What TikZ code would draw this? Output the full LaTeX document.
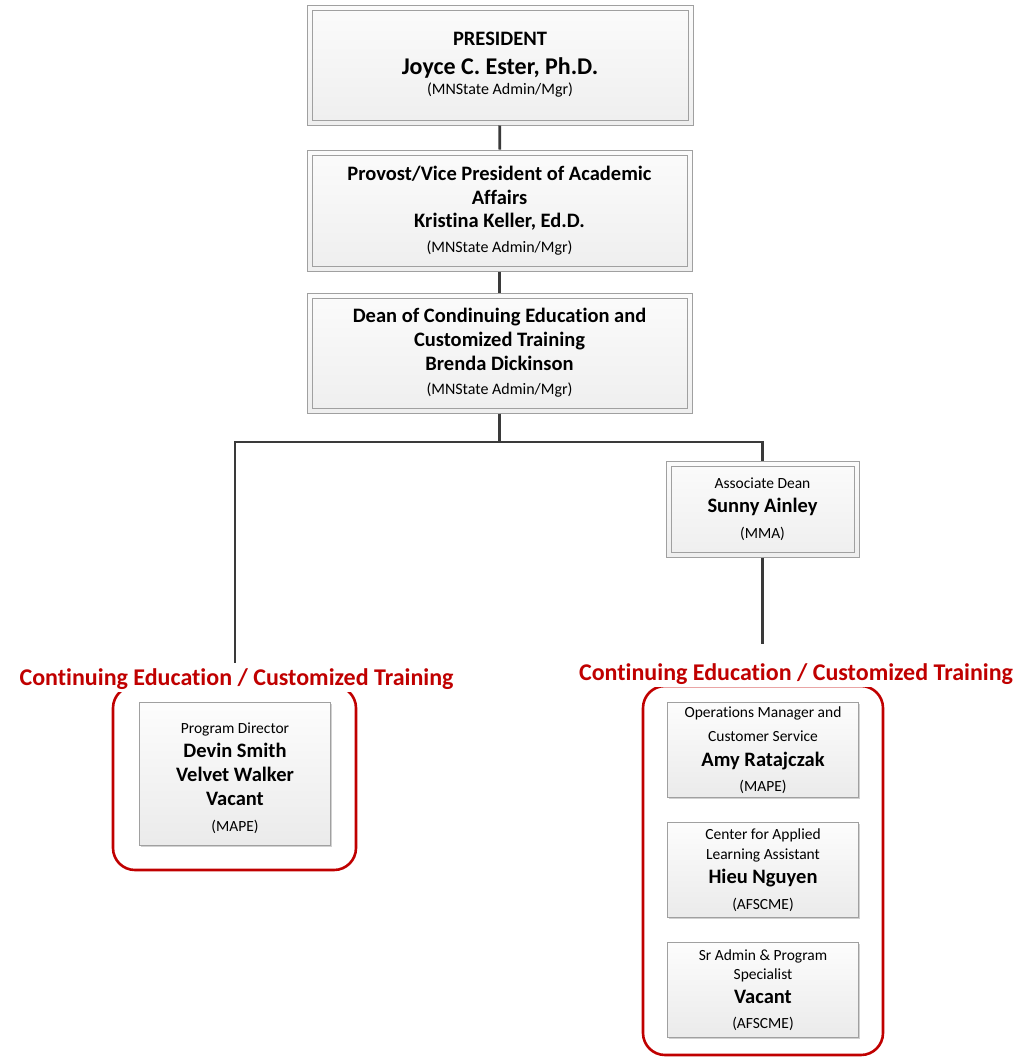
\documentclass[tikz,border=0pt]{standalone}
\usepackage{fontspec}
\setmainfont{Carlito}[Ligatures=NoCommon]
\usetikzlibrary{shadows}
\definecolor{unitred}{HTML}{C00000}
\definecolor{boxline}{HTML}{A0A0A0}
\definecolor{linkgray}{HTML}{3A3A3A}
\tikzset{>=stealth}
\newcommand{\rolel}[1]{{\fontsize{15.5}{24}\selectfont #1}}
\newcommand{\namel}[1]{{\bfseries\fontsize{20.5}{24}\selectfont #1}}
\newcommand{\headl}[1]{{\bfseries\fontsize{24}{24}\selectfont #1}}
\tikzset{
  topbox/.style={draw=boxline, line width=1pt, top color=gray!3, bottom color=gray!13,
    minimum width=386pt, align=center, inner sep=0pt, font=\fontsize{16}{24}\selectfont,
    path picture={\draw[boxline, line width=0.8pt]
      ([xshift=5pt,yshift=-5pt]path picture bounding box.north west) rectangle
      ([xshift=-5pt,yshift=5pt]path picture bounding box.south east);}},
  staffbox/.style={draw=boxline, line width=1pt, top color=gray!2, bottom color=gray!16,
    minimum width=191pt, align=center, inner sep=0pt, font=\fontsize{15.5}{24}\selectfont,
    drop shadow={shadow xshift=1.5pt, shadow yshift=-1.5pt, fill=black, opacity=0.18}},
  unitframe/.style={draw=unitred, line width=2.6pt, rounded corners=22pt},
  unittitle/.style={anchor=base, fill=white, inner sep=3pt, text=unitred,
    font=\bfseries\fontsize{24}{28}\selectfont},
  link/.style={draw=linkgray, line width=2.6pt}
}
\begin{document}
\begin{tikzpicture}[x=1pt,y=-1pt]
    \useasboundingbox (0,0) rectangle (1019,1063);
    \node[topbox, minimum height=120pt] (pres) at (500,65)
      {\namel{PRESIDENT}\\[5pt] \headl{Joyce C. Ester, Ph.D.}\\[-4pt] (MNState Admin/Mgr)};
    \node[topbox, minimum width=385pt, minimum height=121pt, font=\fontsize{16}{23.5}\selectfont] (prov) at (499.5,210.5)
      {\namel{Provost/Vice President of Academic}\\ \namel{Affairs}\\ \namel{Kristina Keller, Ed.D.}\\[1pt] (MNState Admin/Mgr)};
    \node[topbox, minimum width=385pt, minimum height=120pt] (dean) at (499.5,353)
      {\namel{Dean of Condinuing Education and}\\ \namel{Customized Training}\\ \namel{Brenda Dickinson}\\ (MNState Admin/Mgr)};
    \node[topbox, minimum width=193pt, minimum height=96pt] (assoc) at (762.5,509)
      {\rolel{Associate Dean}\\ \namel{Sunny Ainley}\\[2pt] \rolel{(MMA)}};

    \draw[unitframe] (113,686) rectangle (356,870);
    \draw[unitframe] (643,686) rectangle (883,1055);
    \node[unittitle] (cetleft) at (236.5,685) {Continuing Education / Customized Training};
    \node[unittitle] (cetright) at (796,680) {Continuing Education / Customized Training};

    \node[staffbox, minimum height=143pt] (progdir) at (235,774)
      {\rule{0pt}{20pt}Program Director\\ \namel{Devin Smith}\\ \namel{Velvet Walker}\\ \namel{Vacant}\\[2pt] (MAPE)};
    \node[staffbox, minimum height=95pt] (opsmgr) at (763,750)
      {Operations Manager and\\ Customer Service\\[1pt] \namel{Amy Ratajczak}\\[1pt] (MAPE)};
    \node[staffbox, minimum height=95pt] (calasst) at (763,870)
      {Center for Applied\\[-4pt] Learning Assistant\\ \namel{Hieu Nguyen}\\[2pt] (AFSCME)};
    \node[staffbox, minimum height=95pt] (sradmin) at (763,990)
      {Sr Admin \& Program\\[-5pt] Specialist\\ \namel{Vacant}\\[1pt] (AFSCME)};

    \coordinate (fork) at (499.5,442);
    \coordinate (leftend) at (235,663);
    \coordinate (rightend) at (762.5,644);
    \draw[link] (pres) -- (prov);
    \draw[link] (prov) -- (dean);
    \draw[link] (dean) -- (fork) -| (assoc);
    \draw[link] (fork) -| (leftend);
    \draw[link] (assoc) -- (rightend);
\end{tikzpicture}
\end{document}
